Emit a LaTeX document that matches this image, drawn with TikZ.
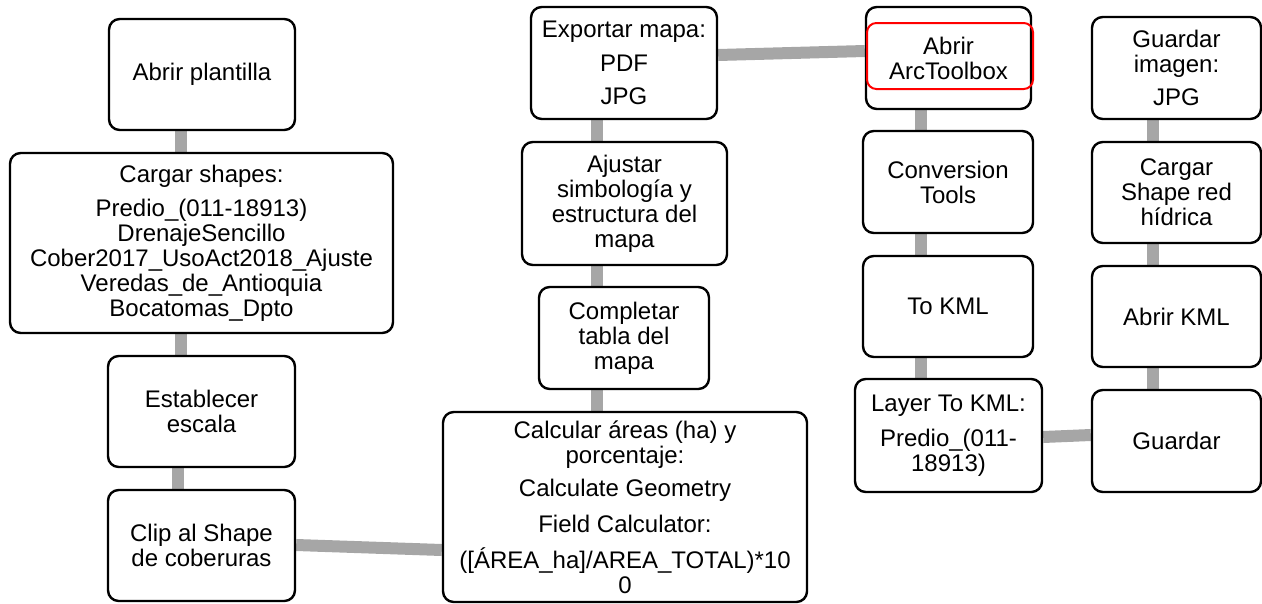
\documentclass[tikz,border=0pt]{standalone}
\usepackage{fontspec}
\setmainfont{Liberation Sans}
\usetikzlibrary{backgrounds}
\definecolor{linkgray}{HTML}{A6A6A6}
\definecolor{hlred}{HTML}{FF0000}
\begin{document}
\begin{tikzpicture}[x=0.75pt,y=-0.75pt,
  sz/.style 2 args={minimum width={#1*0.75pt}, minimum height={#2*0.75pt}},
  stepbox/.style={draw=black, line width=1.8pt, rounded corners=8pt, fill=white,
    align=center, inner sep=2pt, font=\fontsize{18}{18.75}\selectfont},
  hlbox/.style={draw=hlred, line width=1.5pt, rounded corners=7pt, inner sep=0pt},
  link/.style={draw=linkgray, line width=9pt}]
\useasboundingbox (0,0) rectangle (1262,603);

% left column
\node[stepbox, sz={186}{111}] (plantilla) at (202,74.5) {Abrir plantilla};
\node[stepbox, sz={383}{180}] (shapes) at (201.5,243) {Cargar shapes:\\[6.5pt]
  Predio\_(011-18913)\\DrenajeSencillo\\Cober2017\_UsoAct2018\_Ajuste\\
  Veredas\_de\_Antioquia\\Bocatomas\_Dpto};
\node[stepbox, sz={187}{111}] (escala) at (201.5,411.5) {Establecer\\escala};
\node[stepbox, sz={187}{111}] (clip) at (201.5,545.5) {Clip al Shape\\de coberuras};

% second column
\node[stepbox, sz={364}{190}] (areas) at (625,507) {Calcular áreas (ha) y\\porcentaje:\\[6.5pt]
  Calculate Geometry\\[8pt]Field Calculator:\\[8pt]([ÁREA\_ha]/AREA\_TOTAL)*10\\0};
\node[stepbox, sz={170}{102}] (tabla) at (624,338) {Completar\\tabla del\\mapa};
\node[stepbox, sz={205}{123}] (simb) at (624.5,203.5) {Ajustar\\simbología y\\estructura del\\mapa};
\node[stepbox, sz={186}{112}] (export) at (624,63) {Exportar mapa:\\[6.5pt]PDF\\[6.5pt]JPG};

% third column
\node[stepbox, sz={165}{102}] (toolbox) at (948.5,58) {Abrir\\ArcToolbox};
\node[hlbox, sz={166}{66}] (toolboxmark) at (950,56) {};
\node[stepbox, sz={170}{102}] (conv) at (948,182) {Conversion\\Tools};
\node[stepbox, sz={170}{101}] (tokml) at (948,306.5) {To KML};
\node[stepbox, sz={187}{113}] (layer) at (948.5,435.5) {Layer To KML:\\[7.5pt]Predio\_(011-\\18913)};

% fourth column
\node[stepbox, sz={169}{102}] (guardar) at (1176.5,441) {Guardar};
\node[stepbox, sz={169}{101}] (abrirkml) at (1176.5,316.5) {Abrir KML};
\node[stepbox, sz={169}{101}] (red) at (1176.5,192.5) {Cargar\\Shape red\\hídrica};
\node[stepbox, sz={169}{102}] (imagen) at (1176.5,68) {Guardar\\imagen:\\[6.5pt]JPG};

% connectors
\begin{scope}[on background layer]
  \draw[link] (plantilla.south -| 181,0) -- (shapes.north -| 181,0);
  \draw[link] (shapes.south -| 181,0) -- (escala.north -| 181,0);
  \draw[link] (escala.south -| 178,0) -- (clip.north -| 178,0);
  \draw[link] (clip.east |- 0,545) -- (areas.west |- 0,550);
  \draw[link] (areas.north -| 597,0) -- (tabla.south -| 597,0);
  \draw[link] (tabla.north -| 597,0) -- (simb.south -| 597,0);
  \draw[link] (simb.north -| 597,0) -- (export.south -| 597,0);
  \draw[link] (export.east |- 0,55) -- (toolbox.west |- 0,51);
  \draw[link] (toolbox.south -| 921,0) -- (conv.north -| 921,0);
  \draw[link] (conv.south -| 921,0) -- (tokml.north -| 921,0);
  \draw[link] (tokml.south -| 921,0) -- (layer.north -| 921,0);
  \draw[link] (layer.east |- 0,437) -- (guardar.west |- 0,435);
  \draw[link] (guardar.north -| 1153,0) -- (abrirkml.south -| 1153,0);
  \draw[link] (abrirkml.north -| 1153,0) -- (red.south -| 1153,0);
  \draw[link] (red.north -| 1153,0) -- (imagen.south -| 1153,0);
\end{scope}
\end{tikzpicture}
\end{document}
